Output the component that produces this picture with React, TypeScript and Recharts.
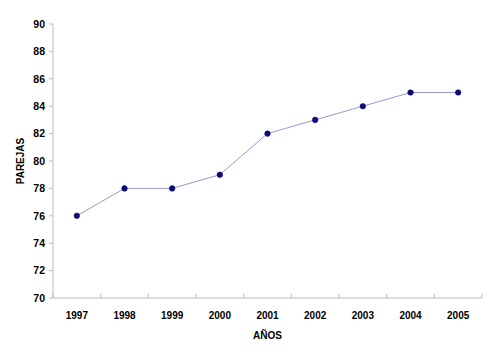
import React from "react";
import { LineChart, Line, XAxis, YAxis, Label } from "recharts";

const years = ["1997", "1998", "1999", "2000", "2001", "2002", "2003", "2004", "2005"];
const parejas = [76, 78, 78, 79, 82, 83, 84, 85, 85];
const yTicks = [70, 72, 74, 76, 78, 80, 82, 84, 86, 88, 90];

const data = years.map((y, i) => ({ year: y, value: parejas[i] }));

const FONT = "'Liberation Sans', Arial, sans-serif";
const AXIS = "#bdbdbd";
const HALF_BAND = 429 / 9 / 2;

const XTick = (props: any) => {
  const { x, y, payload, index, visibleTicksCount } = props;
  const last = index === (visibleTicksCount ?? years.length) - 1;
  return (
    <g>
      <line x1={x - HALF_BAND} x2={x - HALF_BAND} y1={y} y2={y - 4} stroke={AXIS} />
      {last && <line x1={x + HALF_BAND} x2={x + HALF_BAND} y1={y} y2={y - 4} stroke={AXIS} />}
      <text x={x} y={y + 21} textAnchor="middle" fontFamily={FONT} fontWeight="bold" fontSize={10} fill="#000">
        {payload.value}
      </text>
    </g>
  );
};

export default function App() {
  return (
    <div style={{ position: "absolute", left: 0, top: 0, background: "#fff" }}>
      <LineChart width={500} height={357} data={data} margin={{ top: 24, right: 18, bottom: 0, left: 0 }}>
        <XAxis
          dataKey="year"
          height={59}
          padding={{ left: HALF_BAND, right: HALF_BAND }}
          tickLine={false}
          tickSize={0}
          tickMargin={0}
          axisLine={{ stroke: AXIS }}
          tick={<XTick />}
          interval={0}
        >
          <Label value="AÑOS" position="insideTop" offset={34} style={{ fontFamily: FONT, fontWeight: "bold", fontSize: 10, fill: "#000" }} />
        </XAxis>
        <YAxis
          domain={[70, 90]}
          ticks={yTicks}
          interval={0}
          width={53}
          tickSize={4}
          tickMargin={4}
          tickLine={{ stroke: AXIS }}
          axisLine={{ stroke: AXIS }}
          tick={{ fontFamily: FONT, fontWeight: "bold", fontSize: 10.5, fill: "#000" }}
        >
          <Label value="PAREJAS" angle={-90} position="insideLeft" offset={20} style={{ fontFamily: FONT, fontWeight: "bold", fontSize: 10, fill: "#000", textAnchor: "middle" }} />
        </YAxis>
        <Line
          type="linear"
          dataKey="value"
          stroke="#9c98d0"
          strokeWidth={1}
          isAnimationActive={false}
          dot={{ r: 2.8, fill: "#0a0a78", stroke: "#0a0a78", strokeWidth: 0.5 }}
        />
      </LineChart>
    </div>
  );
}
